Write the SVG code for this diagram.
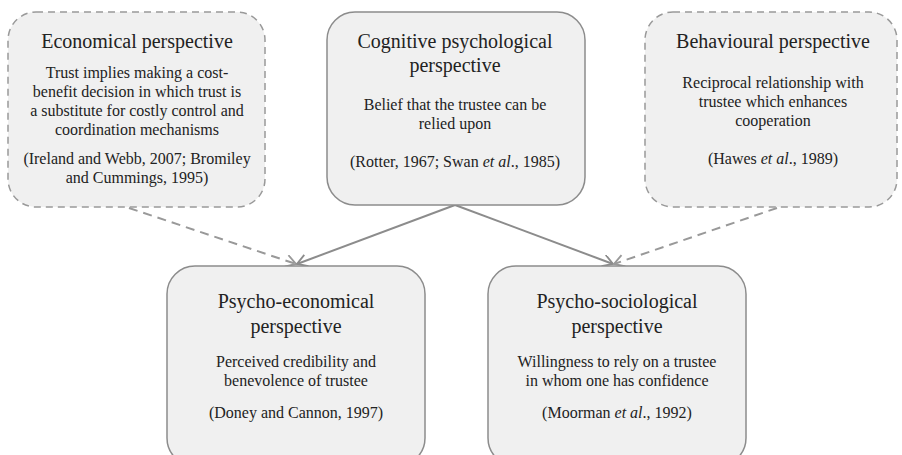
<svg xmlns="http://www.w3.org/2000/svg" width="902" height="455" viewBox="0 0 902 455">
<style>
.box{fill:#f0f0f0;stroke:#8c8c8c;stroke-width:1.5}
.dbox{fill:#f0f0f0;stroke:#999;stroke-width:1.5;stroke-dasharray:7 5}
.t{font-family:"Liberation Serif","Times New Roman",serif;fill:#222;text-anchor:middle}
.h{font-size:20px}
.b{font-size:16px}
.ln{stroke:#8c8c8c;stroke-width:2;fill:none}
.dl{stroke:#999;stroke-width:2;fill:none;stroke-dasharray:9 6}
</style>
<defs>
<marker id="ah" markerWidth="14" markerHeight="14" refX="11" refY="6" orient="auto" markerUnits="userSpaceOnUse">
<path d="M1,0 L11,6 L1,12" fill="none" stroke="#8c8c8c" stroke-width="1.8"/>
</marker>
<marker id="ahd" markerWidth="14" markerHeight="14" refX="11" refY="6" orient="auto" markerUnits="userSpaceOnUse">
<path d="M1,0 L11,6 L1,12" fill="none" stroke="#999" stroke-width="1.8"/>
</marker>
</defs>
<g id="connectors">
<path class="dl" d="M129,208 L296,264" marker-end="url(#ahd)"/>
<path class="ln" d="M455,205 L297,264" marker-end="url(#ah)"/>
<path class="ln" d="M455,205 L613,264" marker-end="url(#ah)"/>
<path class="dl" d="M777,208 L614,264" marker-end="url(#ahd)"/>
</g>
<g id="economical">
<rect class="dbox" x="8" y="12" width="257" height="195" rx="28"/>
<text class="t h" x="137" y="48">Economical perspective</text>
<text class="t b" x="137" y="78">Trust implies making a cost-</text>
<text class="t b" x="137" y="97">benefit decision in which trust is</text>
<text class="t b" x="137" y="116">a substitute for costly control and</text>
<text class="t b" x="137" y="135">coordination mechanisms</text>
<text class="t b" x="137" y="164">(Ireland and Webb, 2007; Bromiley</text>
<text class="t b" x="137" y="183">and Cummings, 1995)</text>
</g>
<g id="cognitive">
<rect class="box" x="327" y="12" width="258" height="193" rx="28"/>
<text class="t h" x="455" y="48">Cognitive psychological</text>
<text class="t h" x="455" y="72">perspective</text>
<text class="t b" x="455" y="110">Belief that the trustee can be</text>
<text class="t b" x="455" y="129">relied upon</text>
<text class="t b" x="455" y="167">(Rotter, 1967; Swan <tspan font-style="italic">et al</tspan>., 1985)</text>
</g>
<g id="behavioural">
<rect class="dbox" x="645" y="12" width="252" height="195" rx="28"/>
<text class="t h" x="773" y="48">Behavioural perspective</text>
<text class="t b" x="773" y="88">Reciprocal relationship with</text>
<text class="t b" x="773" y="107">trustee which enhances</text>
<text class="t b" x="773" y="126">cooperation</text>
<text class="t b" x="773" y="164">(Hawes <tspan font-style="italic">et al</tspan>., 1989)</text>
</g>
<g id="psycho-economical">
<rect class="box" x="167" y="266" width="258" height="200" rx="28"/>
<text class="t h" x="296" y="308">Psycho-economical</text>
<text class="t h" x="296" y="333">perspective</text>
<text class="t b" x="296" y="367">Perceived credibility and</text>
<text class="t b" x="296" y="386">benevolence of trustee</text>
<text class="t b" x="296" y="418">(Doney and Cannon, 1997)</text>
</g>
<g id="psycho-sociological">
<rect class="box" x="488" y="266" width="258" height="200" rx="28"/>
<text class="t h" x="617" y="308">Psycho-sociological</text>
<text class="t h" x="617" y="333">perspective</text>
<text class="t b" x="617" y="367">Willingness to rely on a trustee</text>
<text class="t b" x="617" y="386">in whom one has confidence</text>
<text class="t b" x="617" y="418">(Moorman <tspan font-style="italic">et al</tspan>., 1992)</text>
</g>
</svg>
